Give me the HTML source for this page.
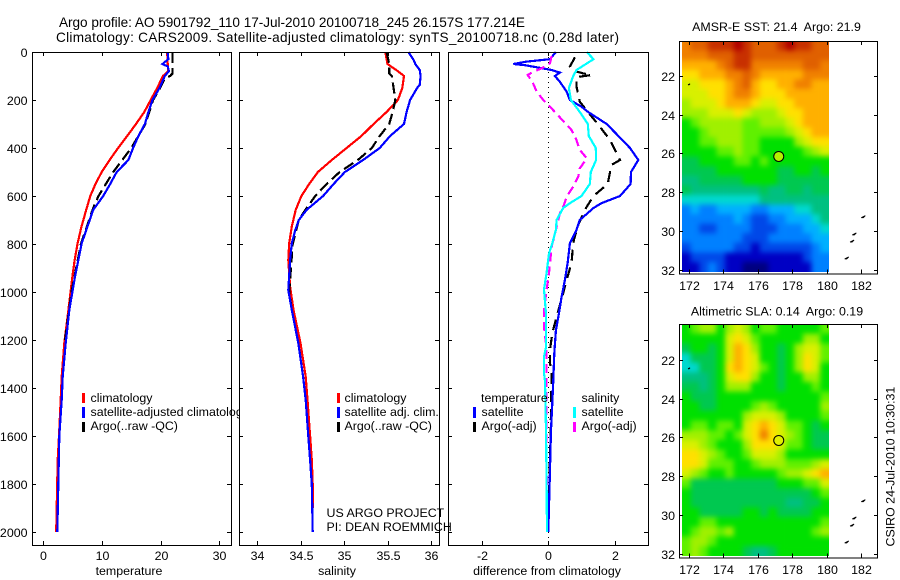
<!DOCTYPE html>
<html>
<head>
<meta charset="utf-8">
<title>Argo profile</title>
<style>
html,body{margin:0;padding:0;background:#fff}
svg{display:block}
text{font-family:"Liberation Sans",sans-serif;font-size:12.4px;fill:#000}
.t{font-size:13.6px}
.mt{font-size:12.4px}
</style>
</head>
<body>
<svg id="chart" xmlns="http://www.w3.org/2000/svg" width="900" height="580" viewBox="0 0 900 580">
<defs>
<clipPath id="clipLegend"><rect x="33" y="380" width="206" height="60"/></clipPath>
<clipPath id="clipSst"><rect x="682" y="42" width="147" height="230"/></clipPath>
<clipPath id="clipSla"><rect x="682" y="325" width="147" height="231"/></clipPath>
<filter id="mapSmooth" x="-5%" y="-5%" width="110%" height="110%" color-interpolation-filters="sRGB">
<feGaussianBlur stdDeviation="2.6"/>
<feComponentTransfer><feFuncA type="linear" slope="60"/></feComponentTransfer>
</filter>
</defs>
<rect width="900" height="580" fill="#fff"/>
<text class="t" x="59" y="27" textLength="466" lengthAdjust="spacing">Argo profile: AO 5901792_110 17-Jul-2010 20100718_245 26.157S 177.214E</text>
<text class="t" x="56" y="42" textLength="563" lengthAdjust="spacing">Climatology: CARS2009. Satellite-adjusted climatology: synTS_20100718.nc (0.28d later)</text>
<g id="panelTemp"></g>
<g clip-path="url(#clipLegend)">
<rect x="82" y="393" width="3" height="10" fill="#f00"/>
<rect x="82" y="407" width="3" height="11" fill="#00f"/>
<rect x="82" y="422" width="3" height="10" fill="#000"/>
<text x="90.5" y="402">climatology</text>
<text x="90.5" y="416">satellite-adjusted climatology</text>
<text x="90.5" y="430">Argo(..raw -QC)</text>
</g>
<g id="panelSal"></g>
<g>
<rect x="337" y="393" width="3" height="10" fill="#f00"/>
<rect x="337" y="407" width="3" height="11" fill="#00f"/>
<rect x="337" y="422" width="3" height="10" fill="#000"/>
<text x="344.5" y="402">climatology</text>
<text x="344.5" y="416">satellite adj. clim.</text>
<text x="344.5" y="430">Argo(..raw -QC)</text>
</g>
<g id="panelDiff"></g>
<text x="326.5" y="517">US ARGO PROJECT</text>
<text x="326.5" y="531">PI: DEAN ROEMMICH</text>
<g>
<text x="481" y="402">temperature</text>
<text x="581.5" y="402">salinity</text>
<rect x="473" y="407" width="3" height="11" fill="#00f"/>
<rect x="473" y="422" width="3" height="10" fill="#000"/>
<rect x="573" y="407" width="3" height="11" fill="#0ff"/>
<rect x="573" y="422" width="3" height="10" fill="#f0f"/>
<text x="481.5" y="416">satellite</text>
<text x="481.5" y="430">Argo(-adj)</text>
<text x="581.5" y="416">satellite</text>
<text x="581.5" y="430">Argo(-adj)</text>
</g>
<text x="129" y="575" text-anchor="middle">temperature</text>
<text x="337" y="575" text-anchor="middle">salinity</text>
<text x="547" y="575" text-anchor="middle">difference from climatology</text>
<g id="mapSst"></g>
<g id="mapSla"></g>
<text class="mt" x="776.5" y="31" text-anchor="middle">AMSR-E SST: 21.4&#160; Argo: 21.9</text>
<text class="mt" x="777" y="315.5" text-anchor="middle">Altimetric SLA: 0.14&#160; Argo: 0.19</text>
<text transform="translate(894.5,546.5) rotate(-90)">CSIRO 24-Jul-2010 10:30:31</text>
</svg>
<script>
/* ---- profile data ---- */
const depthTicks = [0,200,400,600,800,1000,1200,1400,1600,1800,2000];
const tempTicks = [0,10,20,30];
const salTicks = [34,34.5,35,35.5,36];
const salTickLabels = ['34','34.5','35','35.5','36'];
const diffTicks = [-2,0,2];
const diffTickLabels = ['-2','0','2'];

const tempClimDepth = [0,50,80,100,150,200,250,300,350,400,450,500,550,600,658,727,797,866,936,1075,1213,1353,1450,1600,1700,1900,2000];
const tempClimValue = [21.1,21.2,21.3,20.4,19.4,18.3,17.2,15.8,14.3,12.75,11.3,9.95,8.9,8.0,7.3,6.5,5.85,5.35,4.95,4.27,3.58,3.13,2.96,2.67,2.45,2.28,2.2];
const tempSatDepth = [0,30,50,60,80,100,150,200,250,300,350,400,450,500,550,600,658,797,936,1075,1213,1353,1450,1600,1800,2000];
const tempSatValue = [21.2,21.3,20.3,21.2,21.4,20.7,19.8,18.6,17.9,17.3,16.2,15.3,14.5,12.5,11.4,10.2,8.5,6.54,5.4,4.43,3.81,3.3,3.13,2.73,2.56,2.38];
const tempArgoDepth = [0,90,100,110,150,200,300,400,500,600,650,800,1000,1200];
const tempArgoValue = [22,22,21.6,20.7,19.9,18.7,17.4,15,11.9,9.4,8.5,6.4,4.8,3.7];

const salClimDepth = [0,50,80,100,150,200,250,300,350,400,450,500,550,600,658,727,797,867,978,1075,1213,1353,1450,1600,1700,1800,1900];
const salClimValue = [35.475,35.5,35.62,35.69,35.67,35.62,35.49,35.34,35.2,35.03,34.86,34.7,34.6,34.51,34.445,34.4,34.37,34.36,34.38,34.42,34.5,34.56,34.58,34.61,34.63,34.64,34.645];
const salSatDepth = [0,33,50,75,100,137,150,200,250,300,350,400,450,500,550,600,658,700,742,797,867,992,1075,1213,1353,1450,1600,1700,1800,2000];
const salSatValue = [35.74,35.8,35.82,35.87,35.88,35.87,35.84,35.76,35.72,35.69,35.53,35.41,35.22,35.01,34.88,34.76,34.57,34.48,34.44,34.4,34.38,34.36,34.4,34.475,34.53,34.56,34.59,34.61,34.63,34.64];
const salArgoDepth = [0,50,90,100,150,200,250,300,350,400,450,500,550,600,650,700,800,1000,1075,1213,1300];
const salArgoValue = [35.49,35.52,35.52,35.55,35.57,35.59,35.56,35.52,35.41,35.32,35.16,34.95,34.8,34.67,34.57,34.48,34.41,34.37,34.4,34.475,34.51];

const diffTempSatDepth = [0,30,40,50,55,75,86,100,124,165,200,228,250,300,350,400,450,500,550,600,630,650,700,741,797,880,950,1020,1090,1160,1255,1367,1463,1575,1800,2000];
const diffTempSatValue = [0.23,0.05,-0.65,-1.05,-0.7,0.1,0.35,0.2,0.35,0.55,0.65,1.0,1.2,1.76,2.11,2.46,2.71,2.49,2.48,2.16,1.6,1.36,0.95,0.85,0.65,0.58,0.5,0.4,0.32,0.23,0.18,0.15,0.12,0.08,0.04,0.0];
const diffTempArgoDepth = [22,61,78,89,96,105,144,207,242,311,367,450,471,550,600,658,721,778,797,880,950,1020,1103,1172,1241,1296,1338,1500,2000];
const diffTempArgoValue = [0.8,0.65,0.75,1.05,1.3,0.85,0.85,0.95,1.15,1.55,1.86,2.16,1.9,1.79,1.36,1.1,0.9,0.78,0.75,0.7,0.55,0.42,0.25,0.12,0.05,0.05,0.1,0.08,0.0];
const diffSalSatDepth = [0,30,75,100,150,200,250,300,350,400,450,500,550,600,630,650,700,741,797,840,920,990,1090,1230,1270,1340,1370,1575,1800,2000];
const diffSalSatValue = [1.16,1.36,0.85,0.75,0.62,0.68,0.95,1.19,1.22,1.43,1.44,1.28,1.25,1.0,0.65,0.45,0.25,0.23,0.12,0.02,-0.05,-0.13,-0.07,-0.07,-0.13,-0.13,-0.1,-0.07,-0.05,-0.04];
const diffSalArgoDepth = [17,47,68,82,96,124,165,200,228,283,325,367,408,443,485,520,561,603,638,672,728,778,797,853,922,990,1075,1145,1215,1270,1325,1500,2000];
const diffSalArgoValue = [0.1,0.05,-0.2,-0.45,-0.62,-0.48,-0.35,-0.15,0.05,0.42,0.7,0.85,0.95,1.16,0.95,0.9,0.75,0.55,0.47,0.35,0.25,0.17,0.12,0.07,0.02,-0.05,-0.13,-0.13,-0.07,-0.05,-0.05,-0.06,-0.04];

/* ---- map data: colour-scale levels, rows north to south ---- */
const lonTicks = [172,174,176,178,180,182];
const latTicks = [22,24,26,28,30,32];
const sstLevels = [
[14,15,15,16,16,16,17,16,15,15,15,16,17,16,16,15,15],
[14,14,14,15,15,15,16,16,15,15,15,15,15,15,15,15,15],
[13,13,13,13,14,15,16,16,14,14,14,14,14,14,15,15,14],
[12,12,13,13,13,14,14,15,14,13,13,13,13,13,14,14,14],
[11,11,12,12,12,13,14,15,13,12,12,13,13,14,14,13,13],
[11,11,11,12,12,13,14,14,13,12,12,12,13,13,13,13,13],
[10,11,11,11,12,13,13,13,12,11,11,12,12,13,13,13,13],
[10,10,10,11,11,11,12,11,10,10,10,11,12,12,13,13,13],
[8,9,10,10,10,10,10,9,9,10,10,10,11,12,13,13,13],
[8,8,9,10,10,10,10,9,9,9,9,9,10,11,12,13,13],
[8,8,9,9,10,10,10,9,9,8,8,8,8,10,11,12,12],
[8,8,8,8,9,9,10,9,9,8,8,8,8,8,9,10,11],
[7,7,8,8,8,8,9,9,8,9,8,8,8,8,8,8,8],
[7,7,7,7,8,8,8,8,8,8,8,7,7,8,8,7,8],
[6,6,7,7,7,7,7,8,8,8,8,7,7,7,7,7,7],
[7,6,6,6,6,6,6,6,6,7,6,6,7,7,6,7,7],
[5,5,5,5,5,5,5,5,5,6,6,6,6,6,6,6,6],
[3,4,3,3,4,4,4,4,3,3,4,4,4,5,5,6,6],
[3,3,3,3,3,3,4,3,2,2,3,3,4,4,4,5,6],
[3,3,2,2,3,3,3,3,2,2,2,3,3,3,4,4,5],
[3,3,3,3,3,3,3,2,2,2,3,3,3,3,3,4,4],
[2,3,3,3,3,3,2,2,1,2,2,2,2,2,2,3,4],
[1,2,2,2,2,1,1,1,1,1,1,1,1,1,2,3,3],
[1,1,2,3,2,1,1,0,0,0,1,1,1,1,1,3,3]];
const slaLevels = [
[8,9,10,10,8,10,11,10,8,9,9,8,8,8,8,8,9],
[8,8,8,8,8,11,12,11,9,8,8,8,8,8,10,10,8],
[7,8,8,7,8,11,13,12,10,8,8,7,8,10,11,11,9],
[5,7,7,7,8,11,13,12,11,8,8,7,8,10,12,11,9],
[5,5,7,7,8,12,13,12,11,9,8,7,8,10,12,11,8],
[6,6,6,7,8,11,12,12,10,8,8,7,8,8,10,10,8],
[7,7,6,7,8,10,10,10,8,8,8,7,8,8,8,9,8],
[8,7,7,7,8,8,8,8,8,8,8,8,8,8,8,8,9],
[8,8,7,7,8,8,8,8,9,10,9,8,8,8,8,8,10],
[8,8,8,8,8,8,8,10,11,11,11,10,8,8,8,8,9],
[8,9,9,8,9,9,8,11,12,13,12,11,9,9,8,7,8],
[10,10,10,9,9,8,9,11,12,14,12,11,10,9,8,7,7],
[11,11,10,9,8,8,8,10,12,12,12,11,9,9,8,7,7],
[12,12,11,10,9,8,8,9,11,11,11,10,8,8,8,8,8],
[12,12,11,9,9,9,8,8,9,10,10,10,9,9,9,10,11],
[11,10,9,8,8,9,8,8,8,8,8,9,10,10,11,12,13],
[9,7,7,7,7,7,7,7,7,7,7,8,8,8,9,9,11],
[8,7,7,7,7,7,7,7,7,7,7,7,7,7,7,8,9],
[8,7,7,7,7,7,7,7,7,7,7,7,6,6,7,7,8],
[8,8,7,7,7,7,7,8,8,7,8,7,7,7,7,8,8],
[8,8,9,9,8,8,8,8,8,8,8,8,8,8,8,8,9],
[8,9,10,10,9,10,8,8,8,8,8,8,8,8,8,9,10],
[9,10,10,9,8,8,8,8,8,8,8,8,8,8,8,8,8],
[9,10,9,8,8,8,8,7,6,6,7,8,8,8,8,8,8]];
const islandLon = [172.02,181.15,181.46,181.59,182.11];
const islandLat = [22.43,31.4,30.53,30.16,29.27];
const floatLon = 177.214;
const floatLat = 26.157;

const NS = 'http://www.w3.org/2000/svg';
function add(parent, tag, attrs){
  const el = document.createElementNS(NS, tag);
  for (const k in attrs) el.setAttribute(k, attrs[k]);
  parent.appendChild(el);
  return el;
}
function yDepth(d){ return 52 + 0.24*d; }
function xTemp(v){ return 43.3 + 5.87*v; }
function xSal(v){ return 257 + 87*(v-34); }
function xDiff(v){ return 548.3 + 33.2*v; }

function panel(id, L, R, xf, ticks, labels, showDepthLabels){
  const g = document.getElementById(id);
  const T = 52, B = 545;
  const bg = add(g,'rect',{x:L,y:T,width:R-L,height:B-T,fill:'#fff'});
  
  
  depthTicks.forEach(function(d){
    const y = Math.round(yDepth(d))+.5;
    const a = add(g,'path',{d:'M'+L+' '+y+'h4M'+R+' '+y+'h-4',stroke:'#000','shape-rendering':'crispEdges'});
    
    
    if (showDepthLabels){
      const t = add(g,'text',{x:27.5,y:y+4.5,'text-anchor':'end'});
      t.textContent = String(d);
      
      
    }
  });
  ticks.forEach(function(v,i){
    const x = Math.round(xf(v))+.5;
    const a = add(g,'path',{d:'M'+x+' '+T+'v4M'+x+' '+B+'v-4',stroke:'#000','shape-rendering':'crispEdges'});
    
    
    const t = add(g,'text',{x:x,y:560,'text-anchor':'middle'});
    t.textContent = labels[i];
    
    
  });
  return {g:g,L:L,R:R,T:T,B:B};
}
function frame(p){
  const f = add(p.g,'rect',{x:p.L+.5,y:p.T+.5,width:p.R-p.L,height:p.B-p.T,fill:'none',stroke:'#000','shape-rendering':'crispEdges'});
  
  
}
function line(p, xf, depths, vals, color, dash, name){
  const pts = depths.map(function(d,i){ return xf(vals[i]).toFixed(1)+','+yDepth(d).toFixed(1); }).join(' ');
  const a = {points:pts,fill:'none',stroke:color,'stroke-width':2.2,'shape-rendering':'crispEdges'};
  if (dash) a['stroke-dasharray'] = dash;
  const el = add(p.g,'polyline',a);
  
  
}

const p1 = panel('panelTemp',32,231,xTemp,tempTicks,tempTicks.map(String),true);
line(p1,xTemp,tempClimDepth,tempClimValue,'#f00',null,'temperature-climatology-line');
line(p1,xTemp,tempArgoDepth,tempArgoValue,'#000','11 5','temperature-argo-line');
line(p1,xTemp,tempSatDepth,tempSatValue,'#00f',null,'temperature-satellite-line');
frame(p1);

const p2 = panel('panelSal',239,439,xSal,salTicks,salTickLabels,false);
line(p2,xSal,salClimDepth,salClimValue,'#f00',null,'salinity-climatology-line');
line(p2,xSal,salArgoDepth,salArgoValue,'#000','11 5','salinity-argo-line');
line(p2,xSal,salSatDepth,salSatValue,'#00f',null,'salinity-satellite-line');
frame(p2);

const p3 = panel('panelDiff',448,648,xDiff,diffTicks,diffTickLabels,false);
const zeroLine = add(p3.g,'line',{x1:548.5,x2:548.5,y1:52,y2:545,stroke:'#000','stroke-dasharray':'1 4','shape-rendering':'crispEdges'});


line(p3,xDiff,diffTempArgoDepth,diffTempArgoValue,'#000','11 7','difference-temperature-argo-line');
line(p3,xDiff,diffTempSatDepth,diffTempSatValue,'#00f',null,'difference-temperature-satellite-line');
line(p3,xDiff,diffSalArgoDepth,diffSalArgoValue,'#f0f','9 5','difference-salinity-argo-line');
line(p3,xDiff,diffSalSatDepth,diffSalSatValue,'#0ff',null,'difference-salinity-satellite-line');
frame(p3);

/* colour scale for map levels */
function levelColor(v){
  const scale = ['#000080','#0000c4','#0048e8','#0080ff','#00b0ff','#00d8d0','#00c080','#00c850','#00e000','#60f000','#a0f000','#d8f000','#ffe000','#ffb000','#f08000','#e06000','#c83000','#b00000'];
  return scale[Math.max(0,Math.min(scale.length-1,Math.round(v)))];
}
function drawMap(id, levels, clipId, top, bottom, y22, circleFill, labelY){
  const g = document.getElementById(id);
  const L = 679, R = 877;
  const xLon = function(lon){ return 688.7 + (lon-172)*17.27; };
  const yLat = function(lat){ return y22 + (lat-22)*19.35; };
  const lat0 = 22 + (top-y22)/19.35;
  const lon0 = 171.61;
  const dLon = 0.5;
  const dLat = ((bottom-y22)/19.35 + 22 - lat0)/levels.length;
  const clipG = add(g,'g',{'clip-path':'url(#'+clipId+')'});
  
  
  const cells = add(clipG,'g',{filter:'url(#mapSmooth)'});
  
  
  levels.forEach(function(row,r){
    row.forEach(function(v,c){
      const x0 = xLon(lon0+c*dLon), x1 = xLon(lon0+(c+1)*dLon);
      const y0 = yLat(lat0+r*dLat), y1 = yLat(lat0+(r+1)*dLat);
      const cell = add(cells,'rect',{x:x0.toFixed(2),y:y0.toFixed(2),width:(x1-x0+.3).toFixed(2),height:(y1-y0+.3).toFixed(2),fill:levelColor(v)});
      
      
    });
  });
  islandLon.forEach(function(lon,i){
    const x = xLon(lon), y = yLat(islandLat[i]);
    const s = i===0 ? 1 : 2;
    const isl = add(g,'path',{d:'M'+(x-s)+' '+(y+s/2)+'L'+(x+s)+' '+(y-s/2)+'L'+x+' '+(y+s/2)+'Z',fill:'none',stroke:'#000','stroke-width':0.9});
    
    
  });
  lonTicks.forEach(function(lon){
    const x = Math.round(xLon(lon))+.5;
    const a = add(g,'path',{d:'M'+x+' '+top+'v4M'+x+' '+(bottom+2)+'v-4',stroke:'#000','shape-rendering':'crispEdges'});
    
    
    const t = add(g,'text',{x:x,y:labelY,'text-anchor':'middle'});
    t.textContent = String(lon);
    
    
  });
  latTicks.forEach(function(lat){
    const y = Math.round(yLat(lat))+.5;
    const a = add(g,'path',{d:'M'+L+' '+y+'h4M'+(R+1)+' '+y+'h-4',stroke:'#000','shape-rendering':'crispEdges'});
    
    
    const t = add(g,'text',{x:675,y:y+4.5,'text-anchor':'end'});
    t.textContent = String(lat);
    
    
  });
  const f = add(g,'rect',{x:L+.5,y:top+.5,width:R-L,height:bottom+2-top,fill:'none',stroke:'#000','shape-rendering':'crispEdges'});
  
  
  const c = add(g,'circle',{cx:xLon(floatLon),cy:yLat(floatLat),r:5,fill:circleFill,stroke:'#000','stroke-width':1});
  
  
}
drawMap('mapSst',sstLevels,'clipSst',41,271.7,76,'#b4f000',290);
drawMap('mapSla',slaLevels,'clipSla',324,555.7,360,'#e0f000',574);
</script>
</body>
</html>
